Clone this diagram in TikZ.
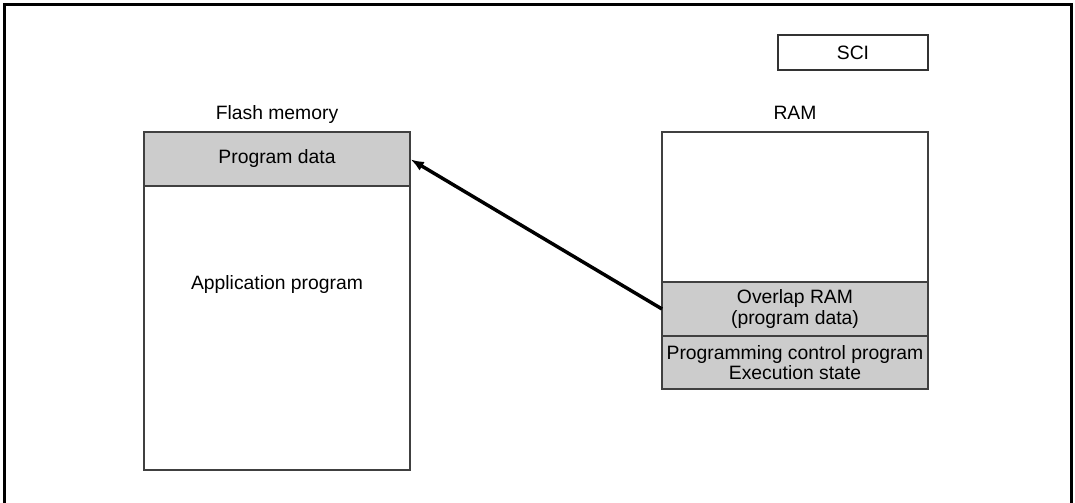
\documentclass[tikz,border=0pt]{standalone}
\usepackage{fontspec}
\setmainfont{Liberation Sans}
\usepackage{xcolor}
\usetikzlibrary{arrows.meta,positioning}
\definecolor{memgray}{RGB}{204,204,204}
\definecolor{edgegray}{RGB}{64,64,64}

\begin{document}
\begin{tikzpicture}[
    x=0.75pt, y=-0.75pt,
    every node/.style={font=\fontsize{14.5}{15.5}\selectfont},
    membox/.style={draw=edgegray, line width=0.9pt, rectangle,
                inner sep=0pt, outer sep=0pt, minimum width=199.5pt,
                align=center, fill=white},
    memfill/.style={membox, fill=memgray},
    sci/.style={draw=black!80, line width=0.9pt, rectangle,
                inner sep=0pt, minimum width=112.5pt, minimum height=26.25pt},
    caption/.style={inner sep=0pt, anchor=base},
    frame/.style={line width=2pt, line cap=rect},
    arrow/.style={-{Latex[length=10pt,width=7.5pt]}, line width=2.6pt, shorten >=0.5pt}
  ]
    \useasboundingbox (0,0) rectangle (1075,503);

    % Outer frame, open at the bottom
    \draw[frame] (4.5,503) -- (4.5,4.5) -- (1071.5,4.5) -- (1071.5,503);

    % Flash memory
    \node[caption] (flashlbl) at (277,119) {Flash memory};
    \node[memfill, minimum height=40.5pt, anchor=north] (pdata) at (277,132) {Program data};
    \node[membox, minimum height=213pt, below=0pt of pdata] (flash) {};
    \node[caption] (app) at (277,289) {Application program};

    % RAM
    \node[caption] (ramlbl) at (795,119) {RAM};
    \node[membox, minimum height=112.5pt, anchor=north] (ramtop) at (795,132) {};
    \node[memfill, minimum height=40.5pt, below=0pt of ramtop] (overlap) {Overlap RAM\\(program data)};
    \node[memfill, minimum height=39.75pt, below=0pt of overlap] (exec) {Programming control program\\Execution state};

    % SCI
    \node[sci] (sci) at (853,52.5) {SCI};

    % Transfer arrow
    \draw[arrow] (overlap.west) -- (pdata.east);
\end{tikzpicture}
\end{document}
